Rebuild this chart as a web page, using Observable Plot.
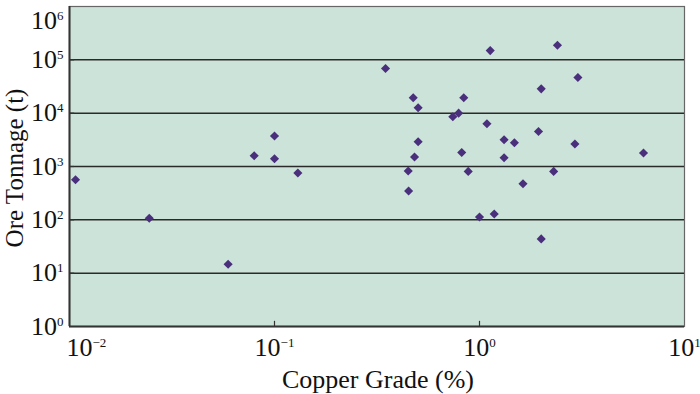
<!DOCTYPE html>
<html><head><meta charset="utf-8">
<script src="https://cdn.jsdelivr.net/npm/d3@7"></script>
<script src="https://cdn.jsdelivr.net/npm/@observablehq/plot@0.6"></script>
<style>body{margin:0;background:#fff} svg{display:block}
svg text.tick10{font-size:26px !important}
svg tspan.sup{font-size:13px !important}</style>
</head><body><div id="chart"></div>
<script>
const grade = [0.0107, 0.0245, 0.0594, 0.0796, 0.1, 0.1, 0.13, 0.348, 0.475, 0.502, 0.502, 0.482, 0.449, 0.451, 0.741, 0.791, 0.838, 0.819, 0.881, 1.0, 1.18, 1.087, 1.128, 1.318, 1.318, 1.48, 1.63, 1.94, 2.0, 2.0, 2.30, 2.40, 2.92, 3.02, 6.31];
const tonnage = [566, 107, 14.7, 1592, 3725, 1400, 755, 68700, 19400, 12600, 2910, 1506, 824, 348, 8560, 10000, 19400, 1836, 809, 113, 129, 6330, 149000, 3180, 1462, 2790, 476, 4540, 28600, 43.9, 809, 188000, 2640, 46600, 1787];
const xTicks = [0.01, 0.1, 1, 10];
const xTickLabels = ["10^−2", "10^−1", "10^0", "10^1"];
const yTicks = [1, 10, 100, 1000, 1e4, 1e5, 1e6];
const yTickLabels = ["10^0", "10^1", "10^2", "10^3", "10^4", "10^5", "10^6"];
const xTitle = "Copper Grade (%)";
const yTitle = "Ore Tonnage (t)";

const data = grade.map((g, i) => ({grade: g, tonnage: tonnage[i]}));
const FONT = "'Liberation Serif', 'Times New Roman', serif";

const chart = Plot.plot({
  width: 700, height: 394,
  marginLeft: 69, marginRight: 16, marginTop: 6, marginBottom: 68,
  style: {fontFamily: FONT, background: "#fff", color: "#111"},
  x: {type: "log", domain: [0.01, 10]},
  y: {type: "log", domain: [1, 1e6]},
  marks: [
    Plot.frame({fill: "#cce3d9", stroke: "#666", strokeWidth: 1.2}),
    Plot.ruleY(yTicks.slice(1, -1), {stroke: "#2a2a2a", strokeWidth: 1.5}),
    Plot.ruleX(xTicks.slice(1, -1), {y1: 1, y2: 1.25, stroke: "#333", strokeWidth: 1.2}),
    Plot.ruleY(yTicks.slice(1, -1), {x1: 0.01, x2: 0.0106, stroke: "#333", strokeWidth: 1.2}),
    Plot.ruleX([0.01], {stroke: "#333", strokeWidth: 2}),
    Plot.ruleY([1], {stroke: "#333", strokeWidth: 2}),
    Plot.axisX(xTicks, {tickSize: 0, tickPadding: 11, fontSize: 26, label: null,
      tickFormat: d => xTickLabels[xTicks.indexOf(d)]}),
    Plot.axisY(yTicks, {tickSize: 0, tickPadding: 6, fontSize: 26, label: null,
      tickFormat: d => yTickLabels[yTicks.indexOf(d)]}),
    Plot.dot(data, {x: "grade", y: "tonnage", symbol: "diamond2", r: 4.1, fill: "#4a2f7c", stroke: "none"})
  ]
});

const svg = d3.select(chart);
svg.selectAll("text").each(function() {
  const t = this.textContent;
  const m = /^10\^(.+)$/.exec(t);
  if (!m) return;
  const el = d3.select(this);
  el.classed("tick10", true).attr("font-size", 26);
  el.text("10");
  el.append("tspan").classed("sup", true).attr("dy", -9).attr("font-size", 13).text(m[1]);
});
// first x tick label starts at the left edge
const xt = svg.selectAll('g[aria-label="x-axis tick label"] text').nodes();
if (xt.length) d3.select(xt[0]).attr("text-anchor", "start").attr("dx", -3);
// top y tick label nudged down to stay inside the picture
const yt = svg.selectAll('g[aria-label="y-axis tick label"] text').nodes();
yt.forEach(n => { if (n.textContent === "106") d3.select(n).attr("dy", "0.55em"); });

svg.append("text").attr("x", 378).attr("y", 388).attr("text-anchor", "middle")
  .style("font-size", "26px").attr("font-family", FONT).attr("fill", "#111").text(xTitle);
svg.append("text").attr("transform", "translate(23,168) rotate(-90)").attr("text-anchor", "middle")
  .style("font-size", "25px").attr("font-family", FONT).attr("fill", "#111").text(yTitle);

document.getElementById("chart").appendChild(chart);
</script>
</body></html>
